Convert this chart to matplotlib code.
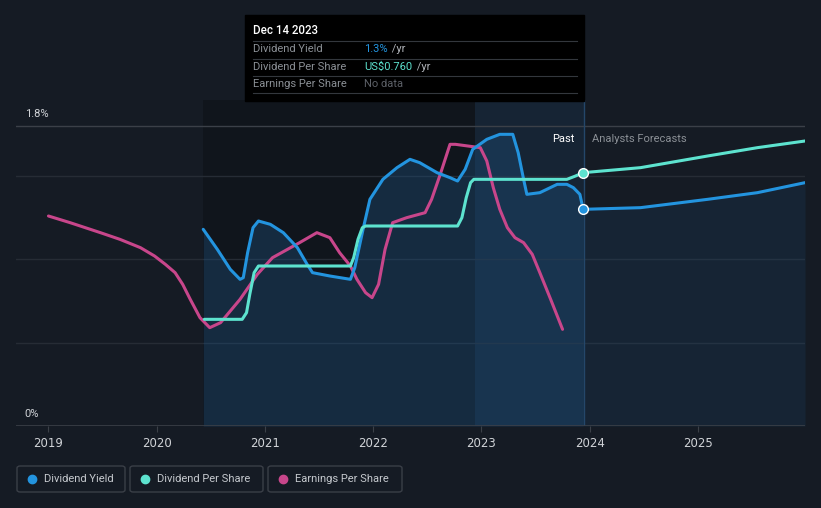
import matplotlib
matplotlib.use("Agg")
import matplotlib.pyplot as plt
from matplotlib.patches import Rectangle, FancyBboxPatch
from matplotlib.lines import Line2D

plt.rcParams['font.family'] = ['Roboto', 'DejaVu Sans']

# dividend yield (%), past
dy_years = [2020.43, 2020.56, 2020.68, 2020.77, 2020.80, 2020.84, 2020.89, 2020.94, 2021.05, 2021.17,
	2021.30, 2021.39, 2021.44, 2021.60, 2021.79, 2021.83, 2021.91, 2021.97, 2022.09, 2022.22,
	2022.34, 2022.43, 2022.59, 2022.71, 2022.78, 2022.85, 2022.92, 2023.05, 2023.17, 2023.29,
	2023.34, 2023.39, 2023.42, 2023.54, 2023.70, 2023.79, 2023.85, 2023.91, 2023.94]
dy_vals = [1.18, 1.06, 0.94, 0.88, 0.89, 1.04, 1.19, 1.23, 1.21, 1.16,
	1.07, 0.97, 0.92, 0.90, 0.88, 0.95, 1.19, 1.36, 1.48, 1.55,
	1.60, 1.58, 1.52, 1.49, 1.47, 1.54, 1.66, 1.72, 1.75, 1.75,
	1.64, 1.48, 1.39, 1.40, 1.45, 1.45, 1.43, 1.39, 1.30]
# dividend yield forecast
dyf_years = [2023.94, 2024.47, 2025.09, 2025.55, 2025.99]
dyf_vals = [1.30, 1.31, 1.36, 1.40, 1.46]

# dividend per share (US$)
dps_years = [2020.44, 2020.79, 2020.83, 2020.86, 2020.90, 2020.94, 2021.79, 2021.82, 2021.86, 2021.90,
	2021.93, 2022.78, 2022.82, 2022.86, 2022.90, 2022.93, 2023.79, 2023.87, 2023.94]
dps_vals = [0.32, 0.32, 0.34, 0.395, 0.46, 0.48, 0.48, 0.505, 0.56, 0.595,
	0.60, 0.60, 0.625, 0.685, 0.73, 0.74, 0.74, 0.75, 0.76]
dpsf_years = [2023.94, 2024.47, 2025.09, 2025.55, 2025.99]
dpsf_vals = [0.76, 0.775, 0.81, 0.835, 0.855]

# earnings per share (relative scale, no units shown)
eps_years = [2019.00, 2019.20, 2019.48, 2019.66, 2019.85, 2019.98, 2020.08, 2020.17, 2020.24, 2020.31,
	2020.40, 2020.49, 2020.59, 2020.77, 2020.93, 2021.07, 2021.32, 2021.48, 2021.60, 2021.69,
	2021.79, 2021.85, 2021.93, 2021.99, 2022.05, 2022.11, 2022.18, 2022.31, 2022.48, 2022.54,
	2022.62, 2022.71, 2022.76, 2022.99, 2023.05, 2023.11, 2023.17, 2023.24, 2023.31, 2023.39,
	2023.47, 2023.54, 2023.64, 2023.75]
eps_vals = [1.26, 1.22, 1.16, 1.12, 1.07, 1.02, 0.97, 0.92, 0.85, 0.76,
	0.65, 0.59, 0.62, 0.76, 0.91, 1.01, 1.10, 1.16, 1.13, 1.04,
	0.96, 0.88, 0.80, 0.77, 0.85, 1.06, 1.22, 1.25, 1.28, 1.36,
	1.51, 1.69, 1.69, 1.67, 1.59, 1.43, 1.30, 1.19, 1.13, 1.10,
	1.03, 0.92, 0.76, 0.58]

year_ticks = [2019, 2020, 2021, 2022, 2023, 2024, 2025]
y_ticks = [0, 1.8]
y_labels = ["0%", "1.8%"]
grid_vals = [0.5, 1.0, 1.5]

past_start = 2020.43
band_start = 2022.94
today = 2023.95

BG = '#151b24'
BLUE = '#2394df'
TEAL = '#5de3cf'
PINK = '#c8468b'
TXT = '#d0d3d7'
GREY = '#8b9096'


def fx(px):
	return px / 821.0


def fy(py):
	return 1 - py / 508.0


fig = plt.figure(figsize=(8.21, 5.08), dpi=100, facecolor=BG)
ax = fig.add_axes([fx(16), fy(426), fx(805) - fx(16), fy(100) - fy(426)])
ax.set_facecolor(BG)
ax.set_xlim(2018.70, 2025.99)
ax.set_ylim(0, 1.956)
for s in ax.spines.values():
	s.set_visible(False)

# grid
for g in grid_vals:
	ax.axhline(g, color='#262c35', lw=1, zorder=1)
ax.axhline(1.8, color='#3b4048', lw=1, zorder=1)
ax.axhline(0, color='#3b4048', lw=1.2, zorder=6)

# shaded regions
ax.axvspan(past_start, band_start, color='#000000', alpha=0.2, lw=0, zorder=0)
ax.axvspan(band_start, today, color='#1c4f7d', alpha=0.18, lw=0, zorder=0)
ax.fill_between(dy_years, dy_vals, 0, color='#1d4d78', alpha=0.4, lw=0, zorder=2)
ax.fill_between(dyf_years, dyf_vals, 0, color='#1d4d78', alpha=0.2, lw=0, zorder=2)
ax.axvline(today, color='#24476a', lw=1, zorder=2)

# lines
ax2 = ax.twinx()
ax2.set_ylim(0, 1.956 / 2)
ax2.axis('off')
kw = dict(lw=2.2, solid_joinstyle='round', solid_capstyle='round')
ax.plot(eps_years, eps_vals, color=PINK, zorder=4, **kw)
ax.plot(dy_years, dy_vals, color=BLUE, zorder=5, **kw)
ax.plot(dyf_years, dyf_vals, color=BLUE, zorder=5, **kw)
ax2.plot(dps_years, dps_vals, color=TEAL, zorder=5, **kw)
ax2.plot(dpsf_years, dpsf_vals, color=TEAL, zorder=5, **kw)
ax.plot([dyf_years[0]], [dyf_vals[0]], 'o', ms=7, mfc=BLUE, mec='white', mew=1, zorder=7)
ax2.plot([dpsf_years[0]], [dpsf_vals[0]], 'o', ms=7, mfc=TEAL, mec='white', mew=1, zorder=7)

# axis labels
ax.set_xticks(year_ticks)
ax.set_xticklabels([str(y) for y in year_ticks], color=TXT, fontsize=8.5,
	family=['Liberation Sans Narrow', 'DejaVu Sans'])
ax.tick_params(axis='x', length=4, color='#3b4048', pad=4)
ax.set_yticks([])
for v, lab in zip(y_ticks, y_labels):
	ax.text(2018.78, v + 0.04, lab, color=TXT, fontsize=8, va='bottom', ha='left')

ax.text(2023.86, 1.72, "Past", color='white', fontsize=8, ha='right', va='center')
ax.text(2024.02, 1.72, "Analysts Forecasts", color=GREY, fontsize=8, ha='left', va='center')

# tooltip
fig.add_artist(Rectangle((fx(245), fy(101)), fx(584) - fx(245), fy(15) - fy(101),
	transform=fig.transFigure, color='#000000', zorder=10))
fig.text(fx(253), fy(31), "Dec 14 2023", color='white', fontsize=8.3, weight='medium', va='center', zorder=11)
rows = [("Dividend Yield", "1.3%", BLUE), ("Dividend Per Share", "US$0.760", TEAL), ("Earnings Per Share", "No data", '#5d6168')]
for i, (lab, val, col) in enumerate(rows):
	yy = 49 + i * 17.5
	fig.add_artist(Line2D([fx(253), fx(577)], [fy(yy - 8), fy(yy - 8)], transform=fig.transFigure,
		color='#33373d', lw=0.8, zorder=11))
	fig.text(fx(253), fy(yy), lab, color='#8b9096', fontsize=8, va='center', zorder=11)
	t = fig.text(fx(364), fy(yy), val, color=col, fontsize=8, va='center', zorder=11)
	if val != "No data":
		fig.canvas.draw()
		bb = t.get_window_extent()
		fig.text(bb.x1 / 821.0 + 0.002, fy(yy), " /yr", color='#b0b4b9', fontsize=8, va='center', zorder=11)
fig.add_artist(Line2D([fx(253), fx(577)], [fy(92.5), fy(92.5)], transform=fig.transFigure,
	color='#33373d', lw=0.8, zorder=11))

# legend boxes
legend = [("Dividend Yield", BLUE, 17, 125), ("Dividend Per Share", TEAL, 130, 263), ("Earnings Per Share", PINK, 268, 402)]
for lab, col, x0, x1 in legend:
	fig.add_artist(FancyBboxPatch((fx(x0), fy(492)), fx(x1) - fx(x0), fy(466) - fy(492),
		boxstyle="round,pad=0,rounding_size=0.004", transform=fig.transFigure,
		fc='none', ec='#3a3f47', lw=1))
	fig.add_artist(Line2D([fx(x0 + 15)], [fy(479)], transform=fig.transFigure, marker='o',
		ms=6, mfc=col, mec=col, lw=0))
	fig.text(fx(x0 + 27), fy(479), lab, color='#c5c9ce', fontsize=8, va='center')

fig.savefig("out.png", dpi=100, facecolor=BG)
